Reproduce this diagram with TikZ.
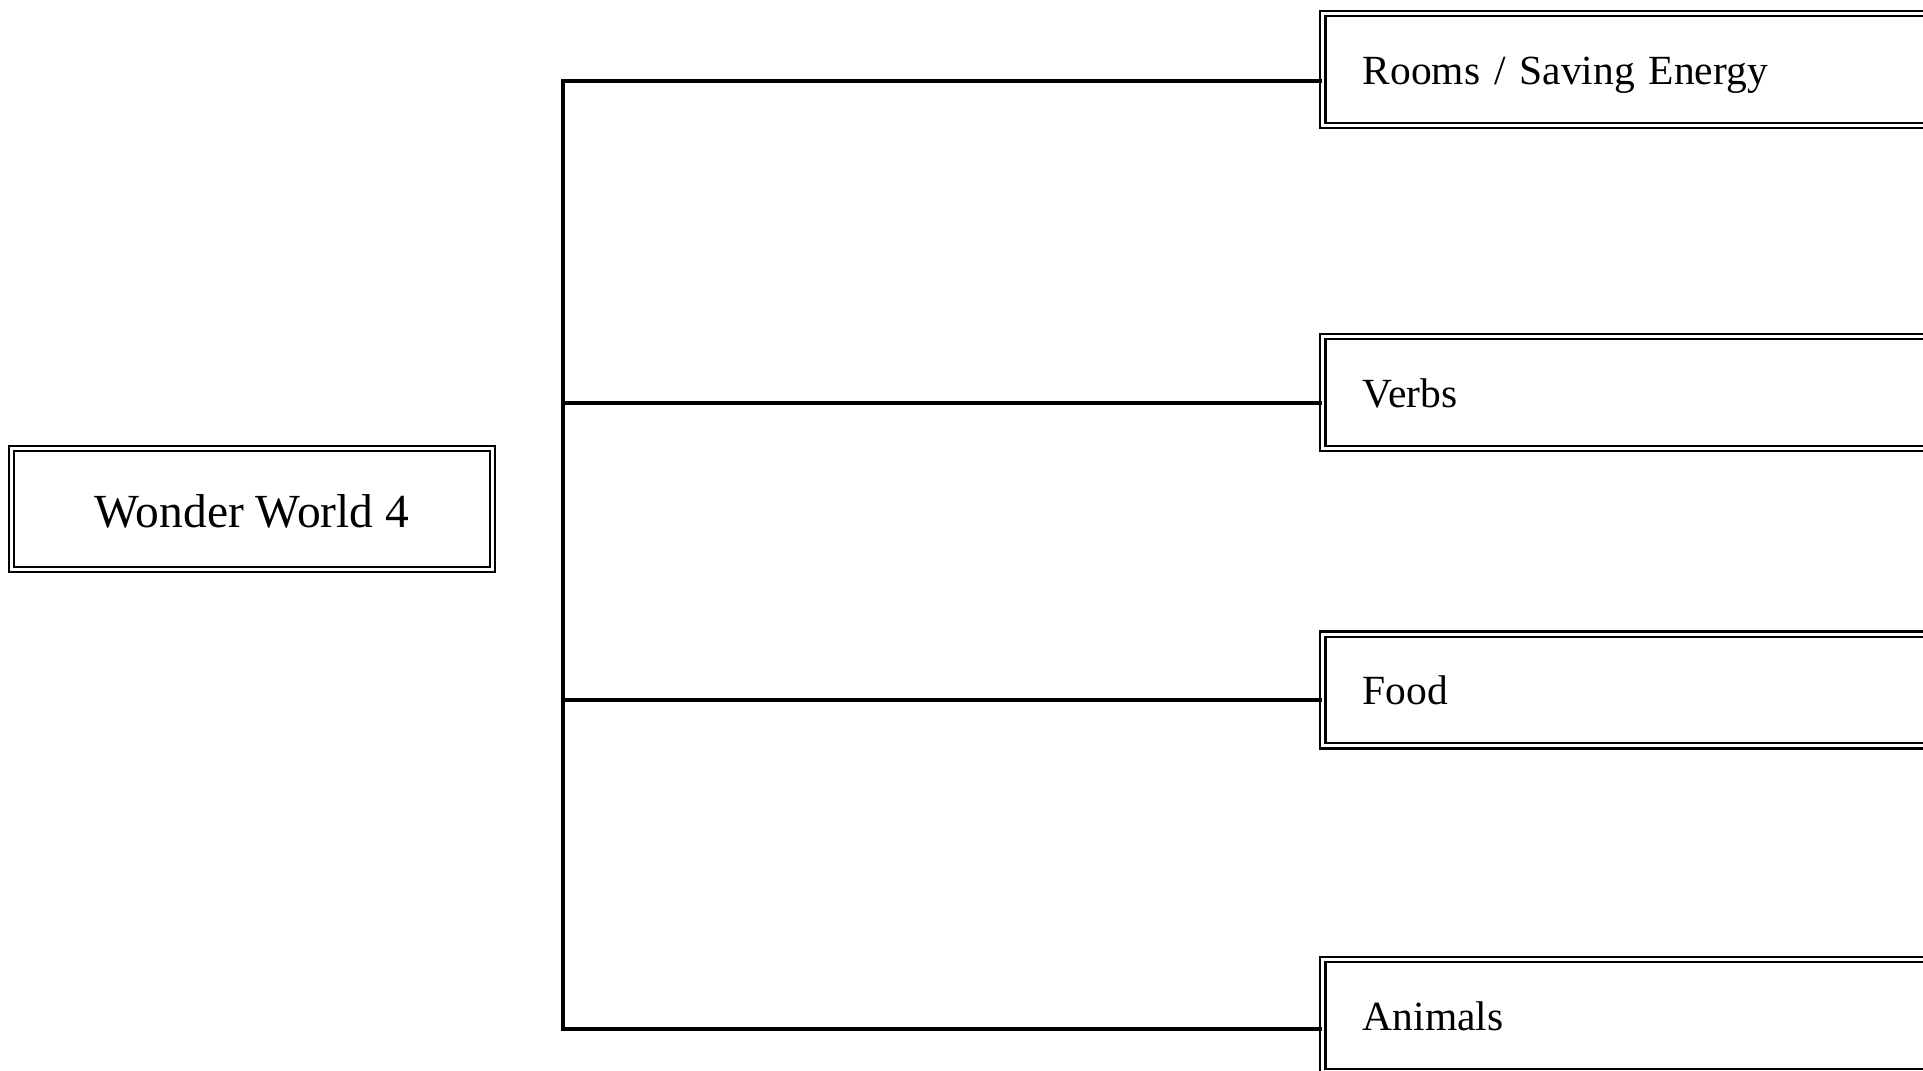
\documentclass[tikz,border=0pt]{standalone}
\usepackage{fontspec}
\setmainfont{Liberation Serif}
\begin{document}
\begin{tikzpicture}[x=1pt,y=1pt,
  dbox/.style={draw, double, line width=2.2pt, double distance=3.1pt, inner sep=0pt},
  topic/.style={dbox, anchor=west, minimum height=111.7pt, text width=620pt, align=left,
    inner xsep=40pt, text height=35pt, text depth=5pt, font=\fontsize{41.5}{46}\selectfont},
  conn/.style={line width=3.6pt, line join=miter}]
\clip (0,0) rectangle (1923,1071);
\useasboundingbox (0,0) rectangle (1923,1071);
\node[dbox, minimum width=480.6pt, minimum height=120.6pt, text height=40pt, text depth=2pt,
  font=\fontsize{47.5}{52}\selectfont] (main) at (252,562) {Wonder World 4};
\node[topic] (b1) at (1321.7,1001.5) {Rooms / Saving Energy};
\node[topic] (b2) at (1321.7,678.5) {Verbs};
\node[topic] (b3) at (1321.7,381) {Food};
\node[topic] (b4) at (1321.7,55.5) {Animals};
\coordinate (t1) at (563,990);
\coordinate (t2) at (563,668);
\coordinate (t3) at (563,371);
\coordinate (t4) at (563,42);
\draw[conn] (t1 -| b1.west) -- (t1) -- (t4) -- (t4 -| b4.west);
\draw[conn] (t2) -- (t2 -| b2.west);
\draw[conn] (t3) -- (t3 -| b3.west);
\end{tikzpicture}
\end{document}
